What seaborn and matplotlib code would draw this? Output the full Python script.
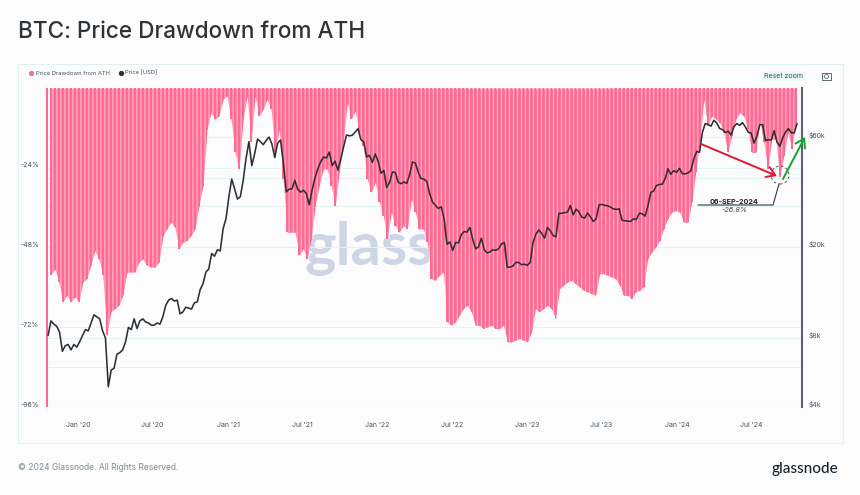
import numpy as np, pandas as pd
import matplotlib
matplotlib.use("Agg")
import matplotlib.pyplot as plt
import matplotlib.dates as mdates
from matplotlib.patches import Rectangle, FancyArrowPatch, Ellipse, FancyBboxPatch
from matplotlib.lines import Line2D
from matplotlib.ticker import NullLocator
from matplotlib.transforms import ScaledTranslation
import seaborn as sns

title = "BTC: Price Drawdown from ATH"
legend_names = ["Price Drawdown from ATH", "Price [USD]"]

drawdown_pct = [
 -96, -56.4,-54.4,-58.4,-64.4,-62.4,-64.4,-62.9,-64.4,-58.4,-57.4,-53.4,-48.9,-51.4,-56.4,-74.4,-67.4,-66.4,-65.4,-62.4,
 -55.4,-55.4,-55.4,-52.4,-51.4,-53.4,-53.9,-53.9,-52.4,-44.4,-42.4,-40.4,-41.9,-48.4,-46.4,-45.9,-44.4,-42.4,-35.4,
 -29.4,-12.4,-7.4,-9.4,-8.4,-3.4,-2.4,-9.4,-19.4,-24.4,-9.4,-2.4,-16.4,-2.4,-8.4,-6.4,-3.4,-6.4,-19.4,-12.4,-27.4,-43.4,
 -43.4,-43.4,-50.4,-48.4,-51.4,-45.4,-35.4,-29.4,-24.4,-24.4,-29.4,-35.4,-25.4,-16.4,-4.4,
 -9.4,-6.9,-13.4,-17.4,-27.4,-31.4,-28.4,-34.4,-38.4,-45.4,-37.4,-41.4,-43.4,-41.4,-42.4,-33.4,-37.4,-42.4,-42.4,-46.4,
 -57.4,-57.9,-56.4,-55.4,-70.4,-71.4,-70.4,-68.4,-66.4,-65.4,-67.4,-71.4,-71.4,-72.4,-71.9,-71.4,-72.4,-72.4,
 -71.4,-76.4,-76.4,-75.9,-75.4,-75.9,-76.4,-73.4,-66.4,-67.4,-66.4,-65.4,-66.4,-69.4,-60.4,-59.4,-58.4,-57.9,-58.9,-59.9,
 -60.9,-61.4,-61.9,-62.4,-55.9,-55.9,-56.4,-56.9,-57.4,-59.4,-62.4,-62.4,-63.4,-61.4,-60.9,-59.9,-51.4,
 -49.4,-47.9,-45.9,-42.4,-39.4,-37.4,-36.9,-37.4,-40.4,-40.4,-34.4,-25.4,-16.4,-3.4,-11.4,-8.4,-9.4,-10.4,-13.4,-19.4,
 -14.4,-9.4,-7.4,-8.4,-12.4,-19.4,-19.4,-10.4,-16.4,-24.4,-15.4,-15.4,-26.8,-20.4,-13.4,-18.4,-10.4]

price_k = [
 8.2,9.5,9.2,9.0,8.5,7.0,7.4,7.5,7.1,7.5,7.3,
 7.7,8.2,8.7,8.6,9.3,10.1,9.9,9.7,8.6,8.0,4.9,5.8,5.9,6.8,6.9,7.1,7.7,8.9,8.7,9.7,8.8,9.5,9.7,9.4,9.3,9.1,9.1,9.3,9.2,9.9,
 11.1,11.7,11.9,11.6,11.7,10.2,10.4,10.9,10.8,10.7,11.4,11.5,13.0,13.8,15.5,16.0,18.7,18.2,19.4,19.2,24.0,26.5,
 33.0,39.5,35.8,32.3,33.1,39.0,48.7,57.5,45.2,51.0,59.0,57.5,55.8,58.2,60.2,56.2,49.0,56.6,58.5,46.5,34.7,35.7,35.8,39.0,
 35.6,34.6,35.3,34.2,30.5,35.3,39.9,43.8,47.0,49.3,48.8,51.8,45.2,47.3,43.2,48.2,54.7,61.5,61.0,61.3,63.3,65.5,58.7,57.3,
 49.4,50.1,46.7,50.8,
 47.3,41.9,43.1,36.3,38.2,42.4,42.2,38.3,37.7,38.4,37.8,41.3,46.9,46.4,42.2,39.7,39.5,38.5,34.0,31.3,30.3,29.4,29.9,26.6,
 20.5,21.0,19.3,20.9,20.8,22.6,23.3,23.2,24.3,21.5,19.6,20.0,21.8,19.4,18.8,19.0,19.4,19.3,19.6,20.6,20.9,16.3,16.3,16.5,
 17.1,17.1,16.7,16.8,
 16.6,17.1,20.9,22.7,23.7,22.9,21.8,24.3,23.5,22.4,22.1,28.0,28.0,28.2,28.3,30.3,27.6,29.2,28.4,26.9,26.7,28.1,27.0,25.8,
 26.5,30.5,30.6,30.3,30.2,29.8,29.3,29.1,29.3,26.1,26.0,25.9,25.8,26.5,26.3,28.0,27.9,27.2,30.0,34.5,35.0,37.0,37.4,37.5,
 39.5,43.8,41.4,43.0,42.2,
 44.0,41.7,41.6,42.0,43.0,48.3,52.1,51.7,63.1,69.0,68.4,67.2,71.3,69.4,65.7,64.9,63.1,63.9,61.5,66.9,69.0,67.8,69.6,66.6,
 63.2,62.7,56.7,60.8,68.2,68.2,58.1,58.7,58.4,64.2,57.3,54.9,59.9,63.3,65.6,62.8,62.8,69.0]

x_tick_dates = ["2020-01-01","2020-07-01","2021-01-01","2021-07-01","2022-01-01","2022-07-01","2023-01-01","2023-07-01","2024-01-01","2024-07-01"]
x_tick_labels = ["Jan '20","Jul '20","Jan '21","Jul '21","Jan '22","Jul '22","Jan '23","Jul '23","Jan '24","Jul '24"]
left_ticks = [-24, -48, -72, -96]
left_labels = ["-24%", "-48%", "-72%", "-96%"]
right_ticks = [4, 6, 8, 20, 30, 40, 60]
right_labels = ["$4k", "", "$8k", "$20k", "", "", "$60k"]

PINK = "#ff6a92"; DARK = "#2b3036"; GRID = "#e4f3f1"; TXT = "#46545e"

sns.set_style("white")
plt.rcParams["font.family"] = ["Inter", "DejaVu Sans"]

W, H = 860, 495
fig = plt.figure(figsize=(W/100, H/100), dpi=100, facecolor="#fcfcfc")
def P(x, y): return (x/W, 1 - y/H)

rect = [46/W, 1-407/H, 756/W, 319/H]
dd = np.array(drawdown_pct)
bar_dates = pd.date_range("2019-10-17", "2024-10-17", periods=len(dd))
bar_x = mdates.date2num(bar_dates)
price_dates = pd.date_range("2019-10-20", periods=len(price_k), freq="7D")
price_x = mdates.date2num(price_dates)
xlim = mdates.date2num(pd.to_datetime(["2019-10-15", "2024-11-01"]))
xt = mdates.date2num(pd.to_datetime(x_tick_dates))

# price-scale grid, underneath the bars
ax_g = fig.add_axes(rect, zorder=0, facecolor="none")
ax_g.set_yscale("log"); ax_g.set_ylim(4, 98.6); ax_g.set_xlim(*xlim)
ax_g.yaxis.tick_right()
ax_g.set_yticks(right_ticks); ax_g.set_yticklabels(right_labels)
ax_g.yaxis.set_minor_locator(NullLocator())
ax_g.set_xticks([])
ax_g.grid(axis="y", color=GRID, lw=0.8)
ax_g.tick_params(axis="y", length=0, pad=4.5, labelsize=5, labelcolor=TXT)
off = ScaledTranslation(0, 2/72, fig.dpi_scale_trans)
for l in ax_g.get_yticklabels():
    l.set_transform(l.get_transform() + off)
sns.despine(ax=ax_g, left=True, bottom=True, right=True, top=True)

# drawdown: body following the readings, spiked bars, and pale seams between the bars
ax = fig.add_axes(rect, zorder=1, facecolor="none")
ax.fill_between(bar_x[1:], dd[1:], 0, color=PINK, lw=0, zorder=1)
df = pd.DataFrame({"x": bar_x, "dd": dd})
sns.barplot(data=df, x="x", y="dd", native_scale=True, ax=ax, color=PINK, saturation=1, width=0.45, linewidth=0, errorbar=None, zorder=1.1)
seams = pd.DataFrame({"x": (bar_x[1:-1] + bar_x[2:]) / 2, "dd": np.minimum(dd[1:-1], dd[2:])})
n_before = len(ax.patches)
sns.barplot(data=seams, x="x", y="dd", native_scale=True, ax=ax, color="white", saturation=1, width=0.3, alpha=0.5, linewidth=0, errorbar=None, zorder=1.2)
for p in ax.patches[n_before:]:
    p.set_snap(False)
ax.set_xlim(*xlim); ax.set_ylim(-96, 0)
ax.set_xlabel(""); ax.set_ylabel("")
ax.set_xticks(xt); ax.set_xticklabels(x_tick_labels)
ax.set_yticks(left_ticks); ax.set_yticklabels(left_labels)
ax.grid(axis="y", color=GRID, lw=0.8); ax.set_axisbelow(True)
ax.tick_params(axis="x", length=4, width=0.6, color=GRID, pad=7, labelsize=5, labelcolor=TXT)
ax.tick_params(axis="y", length=0, pad=5, labelsize=5, labelcolor=TXT)
for l in ax.get_yticklabels():
    l.set_transform(l.get_transform() + off)
sns.despine(ax=ax, left=True, bottom=True, right=True, top=True)

# watermark below the bars
ax.text(305/W, 1-248/H, "glass", transform=fig.transFigure, fontsize=43, color="#cdd5e6", weight="bold",
        ha="left", va="center", zorder=0.5, clip_on=False, family=["Lato", "DejaVu Sans"])

# price line
ax2 = fig.add_axes(rect, zorder=2, facecolor="none")
sns.lineplot(x=price_x, y=price_k, ax=ax2, color=DARK, lw=1.15, estimator=None, errorbar=None, legend=False)
ax2.set_yscale("log"); ax2.set_ylim(4, 98.6); ax2.set_xlim(*xlim)
ax2.set_xticks([]); ax2.set_yticks([]); ax2.yaxis.set_minor_locator(NullLocator())
ax2.set_xlabel(""); ax2.set_ylabel("")
for s in ["left", "top", "bottom"]:
    ax2.spines[s].set_visible(False)
ax2.spines["right"].set_visible(True)
ax2.spines["right"].set_color("#5e5f70"); ax2.spines["right"].set_linewidth(1.5)

# card and text
fig.add_artist(Rectangle(P(18, 443), 825/W, 379/H, transform=fig.transFigure, fc="none", ec="#e1f1f1", lw=0.8, zorder=-1))
fig.text(18/W, 1-32/H, title, fontsize=16.25, color="#2e3338", va="center", ha="left", weight="medium")
fig.text(18/W, 1-467/H, "\u00a9 2024 Glassnode. All Rights Reserved.", fontsize=6.1, color="#7c8c94", va="center", ha="left")
fig.text(771/W, 1-469/H, "glassnode", fontsize=11, color="#16222c", va="center", ha="left", family=["Lato", "DejaVu Sans"], weight="medium")

handles = [Line2D([], [], ls="", marker="o", ms=2.8, color=PINK), Line2D([], [], ls="", marker="o", ms=2.8, color=DARK)]
fig.legend(handles, legend_names, loc="center left", bbox_to_anchor=P(25, 73), ncol=2, frameon=False, fontsize=4.2,
           labelcolor=TXT, handletextpad=0.1, columnspacing=1.4, handlelength=1.2, borderpad=0)

fig.add_artist(FancyBboxPatch(P(762, 81), 44/W, 10/H, transform=fig.transFigure, boxstyle="round,pad=0,rounding_size=0.002",
                              fc="#eaf7f7", ec="none", zorder=3))
fig.text(784/W, 1-76/H, "Reset zoom", fontsize=5, color=TXT, ha="center", va="center", zorder=4)
fig.add_artist(Rectangle(P(822, 80), 9/W, 7/H, transform=fig.transFigure, fc="none", ec="#5a6a72", lw=0.7, zorder=4))
fig.add_artist(Ellipse(P(826.5, 76.5), 4/W, 4/H, transform=fig.transFigure, fc="none", ec="#5a6a72", lw=0.6, zorder=4))

# annotations
fig.add_artist(FancyArrowPatch(P(701, 144), P(777, 176), transform=fig.transFigure, arrowstyle="->,head_length=0.55,head_width=0.35", mutation_scale=11,
                               color="#e01a2e", lw=1.4, shrinkA=0, shrinkB=0, zorder=6))
fig.add_artist(FancyArrowPatch(P(783, 179), P(805, 137), transform=fig.transFigure, arrowstyle="->,head_length=0.55,head_width=0.35", mutation_scale=11,
                               color="#12a32a", lw=1.4, shrinkA=0, shrinkB=0, zorder=6))
fig.add_artist(Ellipse(P(780, 175), 18/W, 18/H, transform=fig.transFigure, fc="none", ec="#333a40", lw=0.6, ls=(0, (3, 3)), zorder=5))
fig.add_artist(Line2D([698/W, 773/W, 779/W], [1-205/H, 1-205/H, 1-184/H], transform=fig.transFigure, color="#2e3a44", lw=0.8, zorder=5))
fig.text(734/W, 1-201.5/H, "06-SEP-2024", fontsize=5.2, weight="bold", color="#1d242a", ha="center", va="center", zorder=6)
fig.text(735/W, 1-210.5/H, "-26.8%", fontsize=5.2, style="italic", color="#3a444c", ha="center", va="center", zorder=6)

fig.savefig("out.png", dpi=100, facecolor=fig.get_facecolor())
